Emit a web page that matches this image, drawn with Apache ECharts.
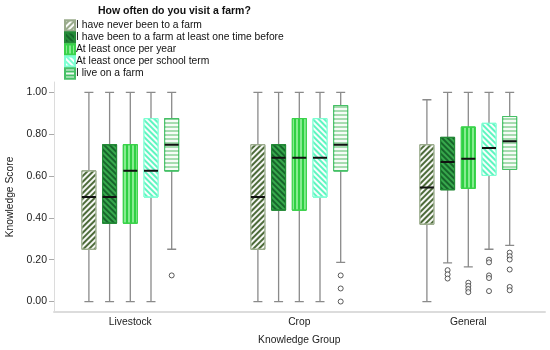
<!DOCTYPE html>
<html>
<head>
<meta charset="utf-8">
<script src="https://cdn.jsdelivr.net/npm/echarts@6/dist/echarts.min.js"></script>
<style>html,body{margin:0;padding:0;background:#fff}#chart{width:550px;height:350px}</style>
</head>
<body>
<div id="chart"></div>
<script>
// ---- data ----
const categories = ['Livestock', 'Crop', 'General'];
const farmGroups = [
  'I have never been to a farm',
  'I have been to a farm at least one time before',
  'At least once per year',
  'At least once per school term',
  'I live on a farm'
];
const yTickValues = [0, 0.2, 0.4, 0.6, 0.8, 1.0];
// [min, Q1, median, Q3, max] per category
const neverStats = [[0, 0.25, 0.5, 0.625, 1], [0, 0.25, 0.5, 0.75, 1], [0, 0.37, 0.545, 0.75, 0.965]];
const onceStats  = [[0, 0.375, 0.5, 0.75, 1], [0, 0.4375, 0.6875, 0.75, 1], [0.185, 0.535, 0.667, 0.785, 1]];
const yearStats  = [[0, 0.375, 0.625, 0.75, 1], [0, 0.4375, 0.6875, 0.875, 1], [0.166, 0.542, 0.683, 0.834, 1]];
const termStats  = [[0, 0.5, 0.625, 0.875, 1], [0, 0.5, 0.6875, 0.875, 1], [0.25, 0.603, 0.734, 0.852, 1]];
const liveStats  = [[0.25, 0.625, 0.75, 0.875, 1], [0.1875, 0.625, 0.75, 0.9375, 1], [0.269, 0.632, 0.767, 0.885, 1]];
// outliers per category
const neverOutliers = [[], [], []];
const onceOutliers  = [[], [], [0.15, 0.13, 0.11]];
const yearOutliers  = [[], [], [0.09, 0.075, 0.06, 0.045]];
const termOutliers  = [[], [], [0.2, 0.1875, 0.125, 0.1125, 0.05]];
const liveOutliers  = [[0.125], [0.125, 0.0625, 0], [0.234, 0.217, 0.201, 0.153, 0.07, 0.054]];

const statsList = [neverStats, onceStats, yearStats, termStats, liveStats];
const outlierList = [neverOutliers, onceOutliers, yearOutliers, termOutliers, liveOutliers];

// ---- styles ----
const FONT = '"Liberation Sans", Arial, sans-serif';
const FS = 10.3;
const styles = [
  { fill: '#4d6b3a', border: '#9aab8c', decal: { symbol: 'rect', symbolSize: 1, dashArrayX: [1, 0], dashArrayY: [2, 2], rotation: -Math.PI / 4, color: 'rgba(255,255,255,0.95)' } },
  { fill: '#37a84c', border: '#258a38', decal: { symbol: 'rect', symbolSize: 1, dashArrayX: [1, 0], dashArrayY: [1.2, 1.2], rotation: Math.PI / 4, color: '#17662b' } },
  { fill: '#2fd043', border: '#3ad24a', decal: { symbol: 'rect', symbolSize: 1, dashArrayX: [1.5, 1.5], dashArrayY: [1, 0], rotation: 0, color: '#86ec90' } },
  { fill: '#5ef5c0', border: '#7dffd2', decal: { symbol: 'rect', symbolSize: 1, dashArrayX: [1, 0], dashArrayY: [1.5, 1.5], rotation: Math.PI / 4, color: 'rgba(255,255,255,0.95)' } },
  { fill: '#a6dcb0', border: '#46c066', decal: { symbol: 'rect', symbolSize: 1, dashArrayX: [1, 0], dashArrayY: [1.5, 2], rotation: 0, color: 'rgba(255,255,255,0.9)' } }
];

const TOP = 82, HEIGHT = 230;
const YMIN = -0.05, YMAX = 1.05;
const BAND_LEFT = 45.8, BAND_WIDTH = 507, STEP = 20.7;

const grids = [{ left: 54, width: 491, top: TOP, height: HEIGHT, outerBoundsMode: 'none', containLabel: false }];
const xAxes = [{
  gridIndex: 0, type: 'category', data: [''],
  axisLine: { show: true, onZero: false, lineStyle: { color: '#dcdcdc', width: 2 } },
  axisTick: { show: false }, axisLabel: { show: false }, splitLine: { show: false }
}];
const yAxes = [{
  gridIndex: 0, type: 'value', min: YMIN, max: YMAX,
  name: 'Knowledge Score', nameLocation: 'middle', nameGap: 38,
  nameTextStyle: { fontFamily: FONT, fontSize: FS, color: '#222' },
  axisLine: { show: true, onZero: false, lineStyle: { color: '#dcdcdc', width: 1 } },
  axisTick: { show: true, customValues: yTickValues, length: 5, lineStyle: { color: '#aaa' } },
  axisLabel: { customValues: yTickValues, formatter: v => v.toFixed(2), fontFamily: FONT, fontSize: 10.5, color: '#222', margin: 7 },
  splitLine: { show: false }
}];
const series = [];

farmGroups.forEach((name, i) => {
  const gi = i + 1;
  grids.push({ left: BAND_LEFT + STEP * (i - 2), width: BAND_WIDTH, top: TOP, height: HEIGHT, outerBoundsMode: 'none', containLabel: false });
  yAxes.push({ gridIndex: gi, type: 'value', min: YMIN, max: YMAX, show: false });
  const base = xAxes.length;
  for (let k = 0; k < 3; k++) {
    const isLabelAxis = (i === 2 && k === 0);
    xAxes.push({
      gridIndex: gi, type: 'category', data: categories,
      show: isLabelAxis,
      axisLine: { show: false, onZero: false }, axisTick: { show: false },
      axisLabel: { show: isLabelAxis, fontFamily: FONT, fontSize: FS, color: '#222', margin: 5 },
      name: isLabelAxis ? 'Knowledge Group' : '', nameLocation: 'middle', nameGap: 23,
      nameTextStyle: { fontFamily: FONT, fontSize: FS, color: '#222' },
      splitLine: { show: false }
    });
  }
  const stats = statsList[i];
  const st = styles[i];
  // whiskers
  series.push({
    type: 'boxplot', name: 'w' + i, xAxisIndex: base, yAxisIndex: gi, z: 2,
    boxWidth: [9, 9], silent: true,
    itemStyle: { color: 'transparent', borderColor: '#8a8a8a', borderWidth: 1.3 },
    data: stats.map(s => [s[0], s[2], s[2], s[2], s[4]])
  });
  // boxes
  series.push({
    type: 'boxplot', name: name, xAxisIndex: base + 1, yAxisIndex: gi, z: 3,
    boxWidth: [14, 14],
    itemStyle: { color: st.fill, borderColor: st.border, borderWidth: 1, decal: st.decal },
    data: stats.map(s => [s[1], s[1], s[2], s[3], s[3]])
  });
  // medians
  series.push({
    type: 'boxplot', name: 'm' + i, xAxisIndex: base + 2, yAxisIndex: gi, z: 4,
    boxWidth: [14, 14], silent: true,
    itemStyle: { color: 'transparent', borderColor: '#111', borderWidth: 2 },
    data: stats.map(s => [s[2], s[2], s[2], s[2], s[2]])
  });
  // outliers
  const pts = [];
  outlierList[i].forEach((arr, ci) => arr.forEach(v => pts.push([ci, v])));
  series.push({
    type: 'scatter', name: 'o' + i, xAxisIndex: base, yAxisIndex: gi, z: 5,
    symbol: 'circle', symbolSize: 5, silent: true,
    itemStyle: { color: '#fff', borderColor: '#333', borderWidth: 1 },
    data: pts
  });
});

const chart = echarts.init(document.getElementById('chart'), null, { renderer: 'canvas' });
chart.setOption({
  animation: false,
  backgroundColor: '#fff',
  title: {
    text: 'How often do you visit a farm?', left: 98, top: 6, padding: 0,
    textStyle: { fontFamily: FONT, fontSize: 10.5, fontWeight: 'bold', color: '#111' }
  },
  legend: {
    data: farmGroups, orient: 'vertical', left: 64, top: 19.5, padding: 0,
    icon: 'rect', itemWidth: 10, itemHeight: 10, itemGap: 0,
    textStyle: { fontFamily: FONT, fontSize: FS, color: '#111', padding: [0, 0, 0, -4] },
    selectedMode: false
  },
  grid: grids, xAxis: xAxes, yAxis: yAxes, series: series
});
</script>
</body>
</html>
